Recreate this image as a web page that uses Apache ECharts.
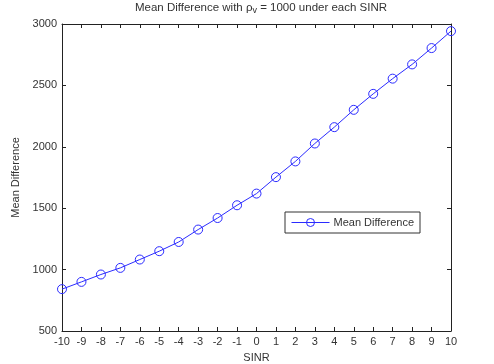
<!DOCTYPE html>
<html>
<head>
<meta charset="utf-8">
<script src="https://cdn.jsdelivr.net/npm/echarts@6/dist/echarts.min.js"></script>
<style>
html,body{margin:0;padding:0;background:#fff;}
#chart{width:494px;height:364px;}
</style>
</head>
<body>
<div id="chart"></div>
<script>
// SINR values on x axis
var sinr = [-10,-9,-8,-7,-6,-5,-4,-3,-2,-1,0,1,2,3,4,5,6,7,8,9,10];
// mean difference
var meanDiff = [841,900,960,1014,1082,1150,1225,1326,1420,1524,1619,1753,1881,2027,2160,2301,2431,2555,2671,2804,2942];
var yTicks = [500,1000,1500,2000,2500,3000];

var pts = [];
for (var i = 0; i < sinr.length; i++) {
	pts.push([sinr[i], meanDiff[i]]);
}

var txt = '#333';
var blue = '#2b2bff';
var myChart = echarts.init(document.getElementById('chart'));

function frameAxis(pos) {
	return {
		type: 'value', position: pos,
		axisLine: {onZero: false, lineStyle: {color: '#222', width: 1}},
		axisTick: {inside: true, length: 4, lineStyle: {color: '#222'}},
		axisLabel: {show: false},
		splitLine: {show: false}
	};
}
var xTop = frameAxis('top');
xTop.min = -10; xTop.max = 10; xTop.interval = 1;
var yRight = frameAxis('right');
yRight.min = yTicks[0]; yRight.max = yTicks[yTicks.length - 1]; yRight.interval = 500;

var option = {
	backgroundColor: '#fff',
	animation: false,
	title: {
		text: 'Mean Difference with {r|ρ}{s|v} = 1000 under each SINR',
		left: 256, top: -5, textAlign: 'center',
		textStyle: {
			fontFamily: 'Liberation Sans', fontSize: 11.5, fontWeight: 'normal', color: txt,
			rich: {
				r: {fontFamily: 'Liberation Sans', fontSize: 11.5, color: txt},
				s: {fontFamily: 'Liberation Sans', fontSize: 9, color: txt, verticalAlign: 'bottom', padding: [6,0,0,0]}
			}
		}
	},
	legend: {
		left: 285, top: 212,
		data: ['Mean Difference'],
		backgroundColor: '#fff',
		borderColor: '#333', borderWidth: 1, borderRadius: 0,
		padding: [5, 6, 5, 6],
		itemWidth: 38, itemHeight: 10, itemGap: 4,
		lineStyle: {width: 1},
		itemStyle: {borderWidth: 1},
		textStyle: {fontFamily: 'Liberation Sans', fontSize: 11, color: txt, padding: [0,0,0,-1]}
	},
	grid: {left: 62, right: 43, top: 24, bottom: 33, containLabel: false, outerBoundsMode: 'none'},
	xAxis: [{
		type: 'value', min: -10, max: 10, interval: 1,
		name: 'SINR', nameLocation: 'middle', nameGap: 21,
		nameTextStyle: {fontFamily: 'Liberation Sans', fontSize: 11, color: txt},
		axisLine: {onZero: false, lineStyle: {color: '#222', width: 1}},
		axisTick: {inside: true, length: 4, lineStyle: {color: '#222'}},
		axisLabel: {fontFamily: 'Liberation Sans', fontSize: 11, color: txt, margin: 5},
		splitLine: {show: false}
	}, xTop],
	yAxis: [{
		type: 'value', min: yTicks[0], max: yTicks[yTicks.length - 1], interval: 500,
		name: 'Mean Difference', nameLocation: 'middle', nameGap: 34,
		nameTextStyle: {fontFamily: 'Liberation Sans', fontSize: 11, color: txt},
		axisLine: {onZero: false, lineStyle: {color: '#222', width: 1}},
		axisTick: {inside: true, length: 4, lineStyle: {color: '#222'}},
		axisLabel: {fontFamily: 'Liberation Sans', fontSize: 11, color: txt, margin: 5,
			formatter: function (v) { return String(v); }},
		splitLine: {show: false}
	}, yRight],
	series: [{
		name: 'Mean Difference',
		type: 'line',
		data: pts,
		symbol: 'circle',
		symbolSize: 9,
		lineStyle: {color: blue, width: 1},
		itemStyle: {color: 'rgba(0,0,0,0)', borderColor: blue, borderWidth: 1}
	}]
};
myChart.setOption(option);
</script>
</body>
</html>
